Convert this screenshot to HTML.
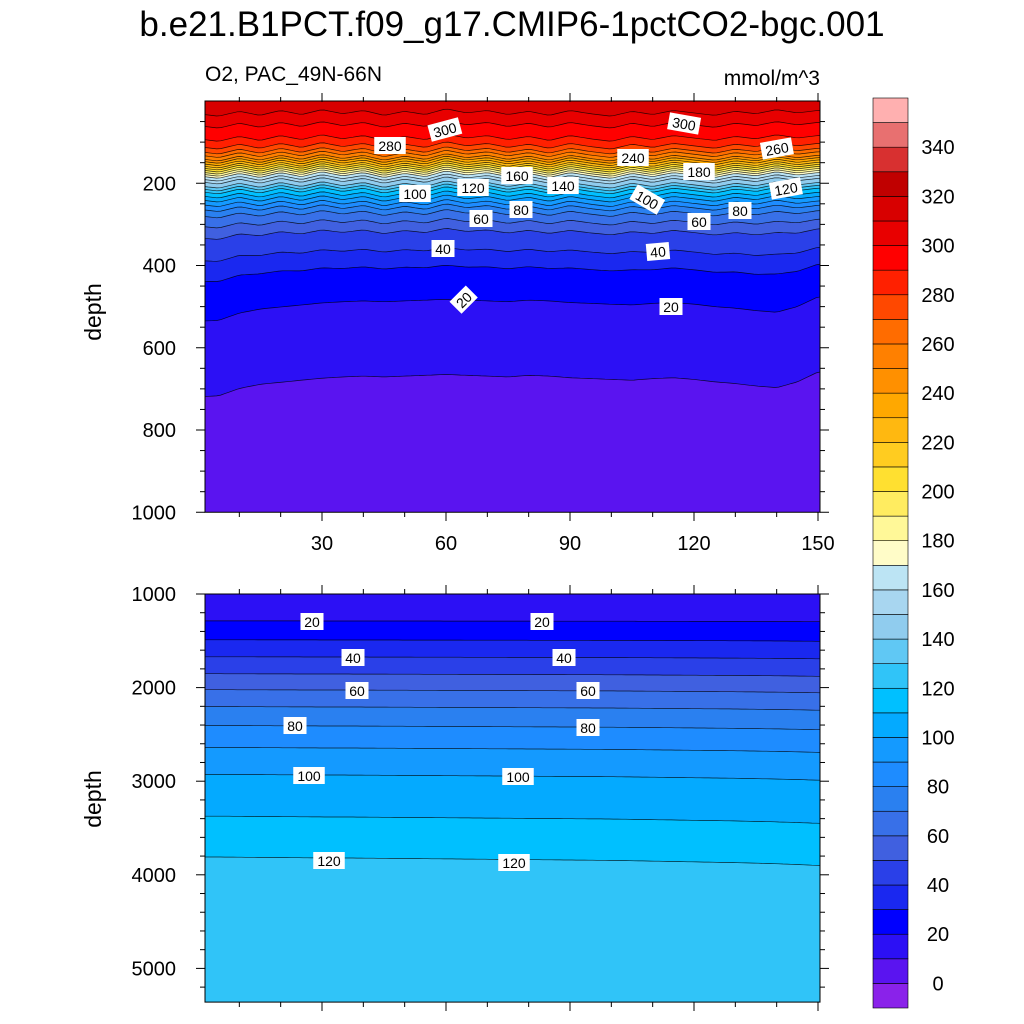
<!DOCTYPE html>
<html><head><meta charset="utf-8">
<style>
html,body{margin:0;padding:0;background:#fff;}
svg{display:block;font-family:"Liberation Sans",Arial,sans-serif;}
</style></head>
<body>
<svg id="chart" width="1024" height="1024" viewBox="0 0 1024 1024" xmlns="http://www.w3.org/2000/svg">
<text x="512" y="36" font-size="35" text-anchor="middle">b.e21.B1PCT.f09_g17.CMIP6-1pctCO2-bgc.001</text>
<text x="205" y="81" font-size="21">O2, PAC_49N-66N</text>
<text x="820" y="85" font-size="21" text-anchor="end">mmol/m^3</text>
<text transform="translate(101,312) rotate(-90)" font-size="23" text-anchor="middle">depth</text>
<text transform="translate(101,799) rotate(-90)" font-size="23" text-anchor="middle">depth</text>
<g id="top"></g>
<g id="bot"></g>
<g id="cbar"></g>
</svg>
<script>
// ---- data ----
const levels = [0,10,20,30,40,50,60,70,80,90,100,110,120,130,140,150,160,170,180,190,200,210,220,230,240,250,260,270,280,290,300,310,320,330,340,350];
const colors = ["#8a22ea","#5a14f0","#2c10f5","#0000ff","#1a28f0","#2a40e8","#4060e0","#3870e8","#2a80f0","#1e8cff","#149aff","#04aaff","#00c0ff","#30c4f8","#60c8f4","#90ccee","#a8d6f0","#bce4f4","#fffcc8","#fff898","#ffec60","#ffe030","#ffcc20","#ffb810","#ffa800","#ff9000","#ff8000","#ff6c00","#ff4800","#ff2000","#ff0000","#e80000","#d80000","#c00000","#d83030","#e87070","#ffb0b0"];
const cbarLabels = [0,20,40,60,80,100,120,140,160,180,200,220,240,260,280,300,320,340];
// upper ocean profile (0-1000 m)
const topDepths = [0,27,56,88,107,119,136,153,168,178,185,192,202,216,236,258,272,294,319,367,411,496,679,1000];
const topValues = [318,310,300,290,280,270,250,220,190,170,160,150,140,120,100,80,70,60,50,40,30,20,10,5];
// per-5-year shifts (m) of shallow and deep structure, years 0..150
const shiftYears = [0,5,10,15,20,25,30,35,40,45,50,55,60,65,70,75,80,85,90,95,100,105,110,115,120,125,130,135,140,145,150];
const shallowShift = [4,10,-2,8,-4,6,-6,4,-4,8,-2,6,-8,2,-4,6,-2,8,-4,4,10,-2,6,-4,2,8,-2,4,-6,2,-4];
const deepShift = [40,38,20,10,5,0,-5,-8,-10,-8,-10,-12,-14,-12,-10,-8,-12,-10,-6,-4,-2,0,-4,-6,-2,4,8,14,18,4,-20];
// deep ocean profile (1000-5360 m)
const botDepths = [1000,1288,1491,1673,1855,2026,2207,2410,2645,2934,3382,3820,5360];
const botValues = [14,20,30,40,50,60,70,80,90,100,110,120,126];
const botShift = [-10,-10,-8,-6,-4,-2,0,0,2,4,6,8,10,12,14,16,18,20,22,24,26,30,34,38,42,46,50,56,62,70,80];
const topLabels = [["300",445,130,-15],["280",390,146,0],["300",684,124,10],["240",633,158,0],["260",777,149,-10],["160",517,176,0],["140",563,186,0],["120",473,188,0],["180",699,172,0],["120",786,189,-10],["100",415,194,0],["100",647,200,30],["80",521,210,0],["80",740,211,0],["60",481,219,0],["60",699,222,0],["40",443,249,0],["40",658,252,-5],["20",464,300,-45],["20",671,307,0]];
const botLabelsArr = [["20",312,622],["20",542,622],["40",353,658],["40",564,658],["60",357,691],["60",588,691],["80",295,726],["80",588,728],["100",309,776],["100",518,777],["120",329,861],["120",514,863]];

// ---- geometry ----
const NS="http://www.w3.org/2000/svg";
const X0=205,X1=820;
const xs = yr => 198 + yr*124/30;
const yTop = d => 101 + d*82.25/200;
const yBot = d => 594 + (d-1000)*0.0936;
function mk(tag,attrs,parent){const e=document.createElementNS(NS,tag);for(const k in attrs)e.setAttribute(k,attrs[k]);parent.appendChild(e);return e;}
function interpArr(xa,ya,x){if(x<=xa[0])return ya[0];for(let i=1;i<xa.length;i++){if(x<=xa[i]){const t=(x-xa[i-1])/(xa[i]-xa[i-1]);return ya[i-1]+t*(ya[i]-ya[i-1]);}}return ya[ya.length-1];}
function crossDepth(depths,vals,L){
  for(let i=1;i<vals.length;i++){const a=vals[i-1],b=vals[i];if((L-a)*(L-b)<=0&&a!==b){return depths[i-1]+(L-a)/(b-a)*(depths[i]-depths[i-1]);}}
  return null;
}
const yrs=[];for(let y=1.5;y<=150.6;y+=1)yrs.push(y);

function drawPanel(g,depths,vals,shiftFn,yFn,dMin,dMax,decreasing,clipId){
  const yA=yFn(dMin),yB=yFn(dMax);
  const defs=mk('defs',{},g);const cp=mk('clipPath',{id:clipId},defs);mk('rect',{x:X0,y:yA,width:X1-X0,height:yB-yA},cp);
  const body=mk('g',{'clip-path':`url(#${clipId})`},g);
  const lowV=Math.min(...vals);
  let baseIdx=0;while(baseIdx<levels.length&&levels[baseIdx]<=lowV)baseIdx++;
  const bg=mk('rect',{x:X0,y:yA,width:X1-X0,height:yB-yA,fill:colors[baseIdx]},body);
  
  
  levels.forEach((L,i)=>{
    const d0=crossDepth(depths,vals,L);if(d0===null)return;
    const pts=yrs.map(yr=>[xs(yr),yFn(d0+shiftFn(yr,d0))]);
    const line=pts.map(p=>p[0].toFixed(1)+','+p[1].toFixed(1)).join(' ');
    const edgeY=decreasing?yA-5:yB+5;
    const poly=mk('polygon',{points:`${xs(yrs[0])-10},${edgeY} ${xs(yrs[0])-10},${pts[0][1]} `+line+` ${xs(yrs[yrs.length-1])+10},${pts[pts.length-1][1]} ${xs(yrs[yrs.length-1])+10},${edgeY}`,fill:colors[i+1]},body);
    
    
  });
  levels.forEach((L)=>{
    const d0=crossDepth(depths,vals,L);if(d0===null)return;
    const line=yrs.map(yr=>xs(yr).toFixed(1)+','+yFn(d0+shiftFn(yr,d0)).toFixed(1)).join(' ');
    const pl=mk('polyline',{points:line,fill:'none',stroke:'#000','stroke-width':0.7,'stroke-opacity':0.8},body);
    
    
  });
  const fr=mk('rect',{x:X0,y:yA,width:X1-X0,height:yB-yA,fill:'none',stroke:'#000','stroke-width':1},g);
  
  
}
function label(g,t,x,y,rot){
  const lg=mk('g',{transform:`translate(${x},${y}) rotate(${rot||0})`},g);
  
  
  const w=t.length*8.5+6;
  mk('rect',{x:-w/2,y:-9,width:w,height:17,fill:'#fff'},lg);
  const tx=mk('text',{x:0,y:5,'font-size':14,'text-anchor':'middle'},lg);tx.textContent=t;
}
const topG=document.getElementById('top'),botG=document.getElementById('bot'),cbG=document.getElementById('cbar');
drawPanel(topG,topDepths,topValues,(yr,d)=>{const w=Math.min(1,Math.max(0,(d-250)/250));return (1-w)*interpArr(shiftYears,shallowShift,yr)+w*interpArr(shiftYears,deepShift,yr);},yTop,0,1000,true,'clipTop');
drawPanel(botG,botDepths,botValues,(yr,d)=>interpArr(shiftYears,botShift,yr)*Math.min(1,(d-1000)/2800),yBot,1000,5360,false,'clipBot');
topLabels.forEach(l=>label(topG,l[0],l[1],l[2],l[3]));
botLabelsArr.forEach(l=>label(botG,l[0],l[1],l[2],0));

// ---- ticks ----
function tick(g,ax,ay,bx,by){mk('line',{x1:ax,y1:ay,x2:bx,y2:by,stroke:'#000','stroke-width':1},g);}
function xTicks(g,yA,yB,withLabels){
  for(let yr=10;yr<=150;yr+=10){const x=xs(yr);const L=yr%30===0?9:5;tick(g,x,yA,x,yA-L);tick(g,x,yB,x,yB+L);
    if(withLabels&&yr%30===0){const t=mk('text',{x:x,y:yB+38,'font-size':20,'text-anchor':'middle'},g);t.textContent=yr;}}
}
xTicks(topG,102,512,true);xTicks(botG,594,1002,false);
for(let d=50;d<=1000;d+=50){const y=yTop(d);const L=d%200===0?9:5;tick(topG,X0,y,X0-L,y);tick(topG,X1,y,X1+L,y);
  if(d%200===0){const t=mk('text',{x:176,y:y+7,'font-size':20,'text-anchor':'end'},topG);t.textContent=d;}}
for(let d=1000;d<=5360;d+=200){const y=yBot(d);const L=d%1000===0?9:5;tick(botG,X0,y,X0-L,y);tick(botG,X1,y,X1+L,y);
  if(d%1000===0){const t=mk('text',{x:176,y:y+7,'font-size':20,'text-anchor':'end'},botG);t.textContent=d;}}

// ---- colorbar ----
const cbTop=98,cbBot=1008,nb=colors.length,bh=(cbBot-cbTop)/nb;
colors.forEach((c,i)=>{const r=mk('rect',{x:873,y:cbBot-(i+1)*bh,width:35,height:bh,fill:c,stroke:'#000','stroke-width':0.6},cbG);
  });
cbarLabels.forEach(v=>{const i=levels.indexOf(v);const y=cbBot-(i+1)*bh;const t=mk('text',{x:938,y:y+7,'font-size':20,'text-anchor':'middle'},cbG);t.textContent=v;
  });
</script>
</body></html>
